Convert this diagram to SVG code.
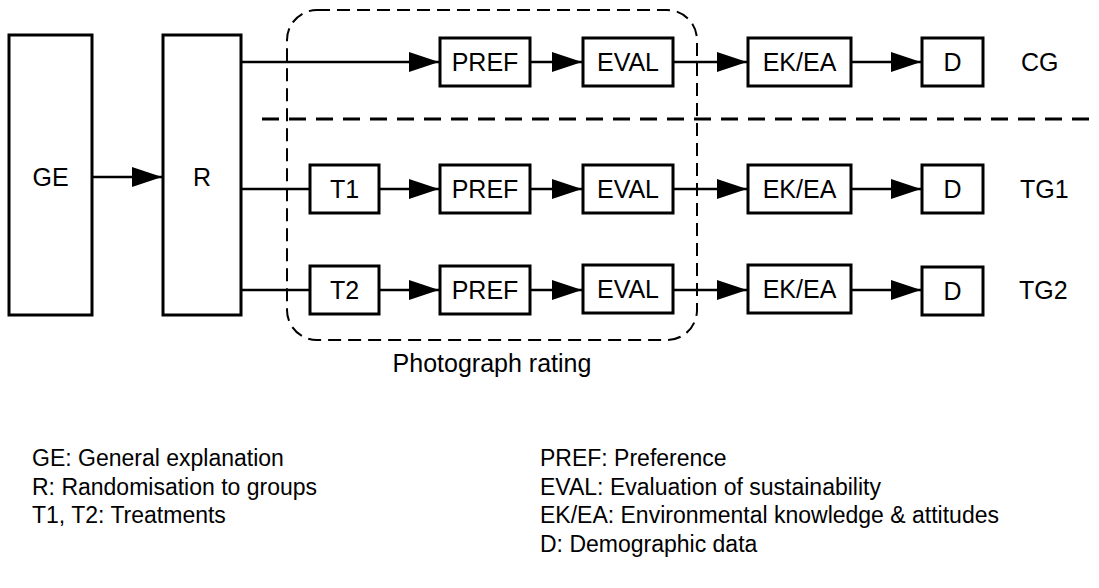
<svg xmlns="http://www.w3.org/2000/svg" width="1099" height="588" viewBox="0 0 1099 588">
  <style>
    .box { fill: #fff; stroke: #000; stroke-width: 3; }
    .lbl { font-family: "Liberation Sans", Arial, sans-serif; font-size: 25px; fill: #000; text-anchor: middle; }
    .grp { font-family: "Liberation Sans", Arial, sans-serif; font-size: 25px; fill: #000; }
    .leg { font-family: "Liberation Sans", Arial, sans-serif; font-size: 23px; fill: #000; }
    .conn { stroke: #000; stroke-width: 2.5; fill: none; }
    .arr { marker-end: url(#ah); }
  </style>
  <defs>
    <marker id="ah" markerWidth="30" markerHeight="20" refX="30" refY="10" orient="auto" markerUnits="userSpaceOnUse">
      <path d="M0,0 L30,10 L0,20 Z" fill="#000"/>
    </marker>
  </defs>
  <rect width="1099" height="588" fill="#fff"/>

  <!-- photograph rating frame and group separator -->
  <g id="frames">
    <rect x="287" y="10" width="410" height="330" rx="30" ry="30" fill="none" stroke="#000" stroke-width="2" stroke-dasharray="13 7"/>
    <line x1="262" y1="119" x2="1099" y2="119" stroke="#000" stroke-width="3" stroke-dasharray="17 10"/>
    <text class="lbl" x="492" y="372">Photograph rating</text>
  </g>

  <!-- connectors -->
  <g id="connectors">
    <line class="conn arr" x1="92" y1="177" x2="162" y2="177"/>
    <!-- CG row -->
    <line class="conn arr" x1="241" y1="62" x2="439" y2="62"/>
    <line class="conn arr" x1="530" y1="62" x2="582" y2="62"/>
    <line class="conn arr" x1="673" y1="62" x2="747" y2="62"/>
    <line class="conn arr" x1="851" y1="62" x2="921" y2="62"/>
    <!-- TG1 row -->
    <line class="conn" x1="241" y1="189" x2="310" y2="189"/>
    <line class="conn arr" x1="379" y1="189" x2="439" y2="189"/>
    <line class="conn arr" x1="530" y1="189" x2="582" y2="189"/>
    <line class="conn arr" x1="673" y1="189" x2="747" y2="189"/>
    <line class="conn arr" x1="851" y1="189" x2="921" y2="189"/>
    <!-- TG2 row -->
    <line class="conn" x1="241" y1="290" x2="310" y2="290"/>
    <line class="conn arr" x1="379" y1="290" x2="439" y2="290"/>
    <line class="conn arr" x1="530" y1="290" x2="582" y2="290"/>
    <line class="conn arr" x1="673" y1="290" x2="747" y2="290"/>
    <line class="conn arr" x1="851" y1="290" x2="921" y2="290"/>
  </g>

  <g id="GE"><rect class="box" x="9" y="35" width="83" height="280"/><text class="lbl" x="50.5" y="186">GE</text></g>
  <g id="R"><rect class="box" x="163" y="35" width="78" height="280"/><text class="lbl" x="202" y="186">R</text></g>

  <!-- control group -->
  <g id="CG-PREF"><rect class="box" x="440" y="38" width="90" height="48"/><text class="lbl" x="485" y="71">PREF</text></g>
  <g id="CG-EVAL"><rect class="box" x="583" y="38" width="90" height="48"/><text class="lbl" x="628" y="71">EVAL</text></g>
  <g id="CG-EKEA"><rect class="box" x="748" y="38" width="103" height="48"/><text class="lbl" x="799.5" y="71">EK/EA</text></g>
  <g id="CG-D"><rect class="box" x="922" y="38" width="61" height="48"/><text class="lbl" x="952.5" y="71">D</text></g>
  <text class="grp" x="1021" y="71">CG</text>

  <!-- treatment group 1 -->
  <g id="TG1-T1"><rect class="box" x="310" y="165" width="69" height="48"/><text class="lbl" x="344.5" y="198">T1</text></g>
  <g id="TG1-PREF"><rect class="box" x="440" y="165" width="90" height="48"/><text class="lbl" x="485" y="198">PREF</text></g>
  <g id="TG1-EVAL"><rect class="box" x="583" y="165" width="90" height="48"/><text class="lbl" x="628" y="198">EVAL</text></g>
  <g id="TG1-EKEA"><rect class="box" x="748" y="165" width="103" height="48"/><text class="lbl" x="799.5" y="198">EK/EA</text></g>
  <g id="TG1-D"><rect class="box" x="922" y="165" width="61" height="48"/><text class="lbl" x="952.5" y="198">D</text></g>
  <text class="grp" x="1020" y="198">TG1</text>

  <!-- treatment group 2 -->
  <g id="TG2-T2"><rect class="box" x="310" y="266" width="69" height="48"/><text class="lbl" x="344.5" y="299">T2</text></g>
  <g id="TG2-PREF"><rect class="box" x="440" y="266" width="90" height="48"/><text class="lbl" x="485" y="299">PREF</text></g>
  <g id="TG2-EVAL"><rect class="box" x="583" y="265" width="90" height="48"/><text class="lbl" x="628" y="298">EVAL</text></g>
  <g id="TG2-EKEA"><rect class="box" x="748" y="265" width="103" height="48"/><text class="lbl" x="799.5" y="298">EK/EA</text></g>
  <g id="TG2-D"><rect class="box" x="922" y="267" width="61" height="48"/><text class="lbl" x="952.5" y="300">D</text></g>
  <text class="grp" x="1019" y="299">TG2</text>

  <!-- abbreviations -->
  <g id="legend">
    <text class="leg" x="32" y="466">GE: General explanation</text>
    <text class="leg" x="32" y="494.5">R: Randomisation to groups</text>
    <text class="leg" x="32" y="523">T1, T2: Treatments</text>
    <text class="leg" x="540" y="466">PREF: Preference</text>
    <text class="leg" x="540" y="494.5">EVAL: Evaluation of sustainability</text>
    <text class="leg" x="540" y="523">EK/EA: Environmental knowledge &amp; attitudes</text>
    <text class="leg" x="540" y="551.5">D: Demographic data</text>
  </g>
</svg>
